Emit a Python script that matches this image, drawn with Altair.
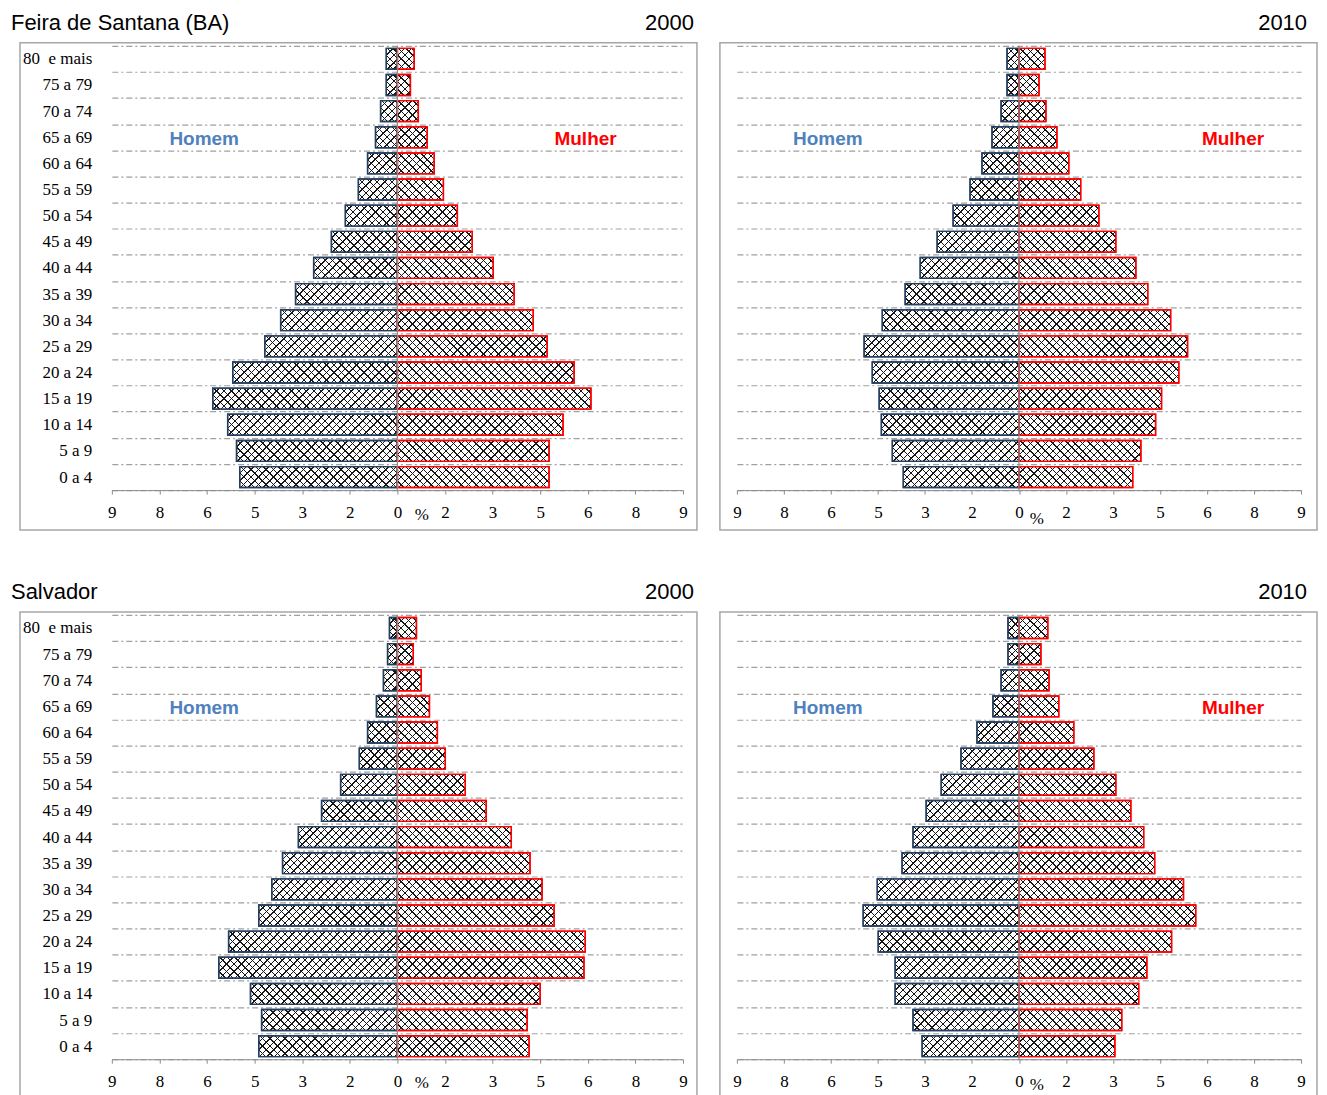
import altair as alt
import pandas as pd

# Age groups, top to bottom
ages = ["80\u00a0 e mais", "75 a 79", "70 a 74", "65 a 69", "60 a 64", "55 a 59",
        "50 a 54", "45 a 49", "40 a 44", "35 a 39", "30 a 34", "25 a 29",
        "20 a 24", "15 a 19", "10 a 14", "5 a 9", "0 a 4"]

# Percent of population (top to bottom)
feira2000_homem = [0.35, 0.35, 0.53, 0.69, 0.94, 1.23, 1.64, 2.08, 2.64, 3.21, 3.68, 4.18, 5.19, 5.82, 5.35, 5.07, 4.97]
feira2000_mulher = [0.53, 0.41, 0.66, 0.94, 1.16, 1.45, 1.89, 2.36, 3.02, 3.68, 4.28, 4.72, 5.57, 6.10, 5.22, 4.78, 4.78]
feira2010_homem = [0.38, 0.38, 0.57, 0.86, 1.18, 1.56, 2.10, 2.61, 3.15, 3.63, 4.36, 4.94, 4.68, 4.46, 4.39, 4.04, 3.69]
feira2010_mulher = [0.83, 0.64, 0.86, 1.21, 1.59, 1.97, 2.55, 3.09, 3.73, 4.11, 4.84, 5.38, 5.10, 4.55, 4.36, 3.89, 3.63]
salvador2000_homem = [0.25, 0.31, 0.44, 0.66, 0.94, 1.20, 1.79, 2.39, 3.12, 3.62, 3.96, 4.37, 5.32, 5.63, 4.63, 4.28, 4.37]
salvador2000_mulher = [0.60, 0.50, 0.75, 1.01, 1.26, 1.51, 2.14, 2.80, 3.59, 4.18, 4.56, 4.94, 5.92, 5.88, 4.50, 4.09, 4.15]
salvador2010_homem = [0.35, 0.35, 0.57, 0.83, 1.34, 1.85, 2.48, 2.96, 3.38, 3.73, 4.52, 4.97, 4.49, 3.95, 3.95, 3.38, 3.09]
salvador2010_mulher = [0.92, 0.70, 0.96, 1.27, 1.75, 2.39, 3.09, 3.57, 3.98, 4.33, 5.25, 5.64, 4.87, 4.08, 3.82, 3.28, 3.06]

# Axis ticks (every 1.5 %, labelled rounded)
x_ticks = [-9, -7.5, -6, -4.5, -3, -1.5, 0, 1.5, 3, 4.5, 6, 7.5, 9]

place_titles = ["Feira de Santana (BA)", "", "Salvador", ""]
year_titles = ["2000", "2010", "2000", "2010"]
sex_labels = ["Homem", "Mulher"]
label_age = "65 a 69"

SERIF = "Liberation Serif"
SANS = "Liberation Sans"
GRID = "#a0a0a0"
FRAME = "#a6a6a6"
PLOT_H = 445
BAR_BAND = 0.8
TITLE_Y = -16
one = pd.DataFrame({"k": [0]})


def hatch(value, px_per_unit, upward, bg, period, thick):
    """Diagonal hatch fill (a linear gradient with hard stops) for one bar."""
    h = PLOT_H / len(ages) * BAR_BAND
    w = max(abs(value) * px_per_unit, 1.0)
    k = w / h
    d = k * k + 1.0
    step = 1.0 / (h * d)
    ink = "#161616"
    stops = []
    t = 0.0
    tmax = min((k + 1.0) / d, 1.0)
    while t < tmax and len(stops) < 400:
        a = t
        b = min(t + (period - thick) * step, 1.0)
        c = min(t + period * step, 1.0)
        stops += [{"offset": round(a, 5), "color": bg}, {"offset": round(b, 5), "color": bg},
                  {"offset": round(b, 5), "color": ink}, {"offset": round(c, 5), "color": ink}]
        t = c
    if upward:
        return {"gradient": "linear", "x1": 0, "y1": 0, "x2": k, "y2": 1, "stops": stops}
    return {"gradient": "linear", "x1": 0, "y1": 1, "x2": k, "y2": 0, "stops": stops}


def panel(homem, mulher, width, show_labels, place, year, homem_x, mulher_x,
          frame_x0, frame_x1, year_x, pct_x, pct_y, anchor=False):
    n = len(ages)
    ppu = width / 18.0
    df = pd.DataFrame({
        "age": ages * 2,
        "sex": ["Homem"] * n + ["Mulher"] * n,
        "v": [-v for v in homem] + list(mulher),
    })
    clear = "rgba(255,255,255,0)"
    df["g1"] = ([hatch(v, ppu, True, "#ffffff", 7.5, 1.5) for v in homem]
                + [hatch(v, ppu, False, "#ffffff", 7.5, 1.5) for v in mulher])
    df["g2"] = ([hatch(v, ppu, False, clear, 7.5, 1.2) for v in homem]
                + [hatch(v, ppu, True, clear, 7.5, 1.2) for v in mulher])

    xscale = alt.Scale(domain=[-9, 9], nice=False, zero=False)
    yscale = alt.Scale(domain=ages, paddingInner=0, paddingOuter=0)
    xaxis = alt.Axis(values=x_ticks, labelExpr="round(abs(datum.value))",
                     title="%", titleX=pct_x, titleY=pct_y, titleAlign="center",
                     titleBaseline="middle", titleFont=SERIF, titleFontSize=17,
                     titleFontWeight="normal", titleColor="black",
                     labelFont=SERIF, labelFontSize=17, labelColor="black",
                     labelFlush=False, labelOverlap=False, labelPadding=10,
                     tickSize=4, tickColor="#8c8c8c", domainColor="#8c8c8c",
                     grid=False)
    yaxis = alt.Axis(title=None, labels=show_labels, ticks=False, domain=False,
                     grid=True, tickBand="extent", gridDash=[6, 3, 2, 3],
                     gridColor=GRID, gridWidth=1.2, labelFont=SERIF,
                     labelFontSize=17, labelColor="black", labelPadding=20,
                     labelAlign="right")

    frame = alt.Chart(one).mark_rect(fillOpacity=0, stroke=FRAME, strokeWidth=1.5).encode(
        x=alt.value(frame_x0), x2=alt.value(frame_x1), y=alt.value(-3), y2=alt.value(485))

    stroke_enc = alt.Stroke("sex:N", scale=alt.Scale(domain=["Homem", "Mulher"],
                                                     range=["#243f60", "#ff0000"]),
                            legend=None)
    bars = alt.Chart(df).mark_bar(height=alt.RelativeBandSize(BAR_BAND),
                                  strokeWidth=1.4).encode(
        x=alt.X("v:Q", scale=xscale, axis=xaxis),
        x2=alt.datum(0),
        y=alt.Y("age:N", scale=yscale, axis=yaxis),
        fill=alt.Fill("g1:N", scale=None, legend=None),
        stroke=stroke_enc,
    )
    bars2 = alt.Chart(df).mark_bar(height=alt.RelativeBandSize(BAR_BAND),
                                   strokeWidth=1.4).encode(
        x=alt.X("v:Q", scale=xscale, axis=xaxis),
        x2=alt.datum(0),
        y=alt.Y("age:N", scale=yscale, axis=yaxis),
        fill=alt.Fill("g2:N", scale=None, legend=None),
        stroke=stroke_enc,
    )

    center = alt.Chart(one).mark_rule(color="#8c8c8c", strokeWidth=1.2).encode(
        x=alt.datum(0))

    lab_x = [homem_x] + ([mulher_x] if mulher_x is not None else [])
    lab_t = sex_labels[:len(lab_x)]
    lab_c = ["#4f81bd", "#ff0000"][:len(lab_x)]
    labdf = pd.DataFrame({"x": lab_x, "t": lab_t, "age": [label_age] * len(lab_x), "c": lab_c})
    labels = alt.Chart(labdf).mark_text(font=SANS, fontSize=19, fontWeight="bold", dy=2).encode(
        x=alt.X("x:Q", scale=xscale, axis=xaxis),
        y=alt.Y("age:N", scale=yscale, axis=yaxis),
        text="t:N",
        color=alt.Color("c:N", scale=None),
    )

    layers = [frame, bars, bars2, center, labels]
    if place:
        layers.append(alt.Chart(one).mark_text(align="left", baseline="alphabetic", font=SANS,
                                               fontSize=22, color="black").encode(
            x=alt.value(-101), y=alt.value(TITLE_Y), text=alt.value(place)))
    layers.append(alt.Chart(one).mark_text(align="right", baseline="alphabetic", font=SANS,
                                           fontSize=22, color="black").encode(
        x=alt.value(year_x), y=alt.value(TITLE_Y), text=alt.value(year)))
    if anchor:
        # invisible anchor fixing the top-left corner of the whole layout
        layers.append(alt.Chart(one).mark_rect(opacity=0).encode(
            x=alt.value(-103), x2=alt.value(-102), y=alt.value(-45), y2=alt.value(-44)))
    return alt.layer(*layers).properties(width=width, height=PLOT_H)


p1 = panel(feira2000_homem, feira2000_mulher, 572, True, place_titles[0], year_titles[0],
           -6.09, 5.93, -92, 586, 583, 310, 24, anchor=True)
p2 = panel(feira2010_homem, feira2010_mulher, 565, False, place_titles[1], year_titles[1],
           -6.10, 6.83, -17, 581, 571, 300, 28)
p3 = panel(salvador2000_homem, salvador2000_mulher, 572, True, place_titles[2], year_titles[2],
           -6.09, None, -92, 586, 583, 310, 23)
p4 = panel(salvador2010_homem, salvador2010_mulher, 565, False, place_titles[3], year_titles[3],
           -6.10, 6.83, -17, 581, 571, 300, 25)

chart = alt.concat(p1, p2, p3, p4, columns=2, spacing={"row": 125, "column": 54},
                   bounds="flush").properties(
    padding={"top": -9, "left": 0, "right": 0, "bottom": 0}
).configure_view(stroke="transparent")

chart.save("out.html", embed_options={"renderer": "svg", "actions": False})
